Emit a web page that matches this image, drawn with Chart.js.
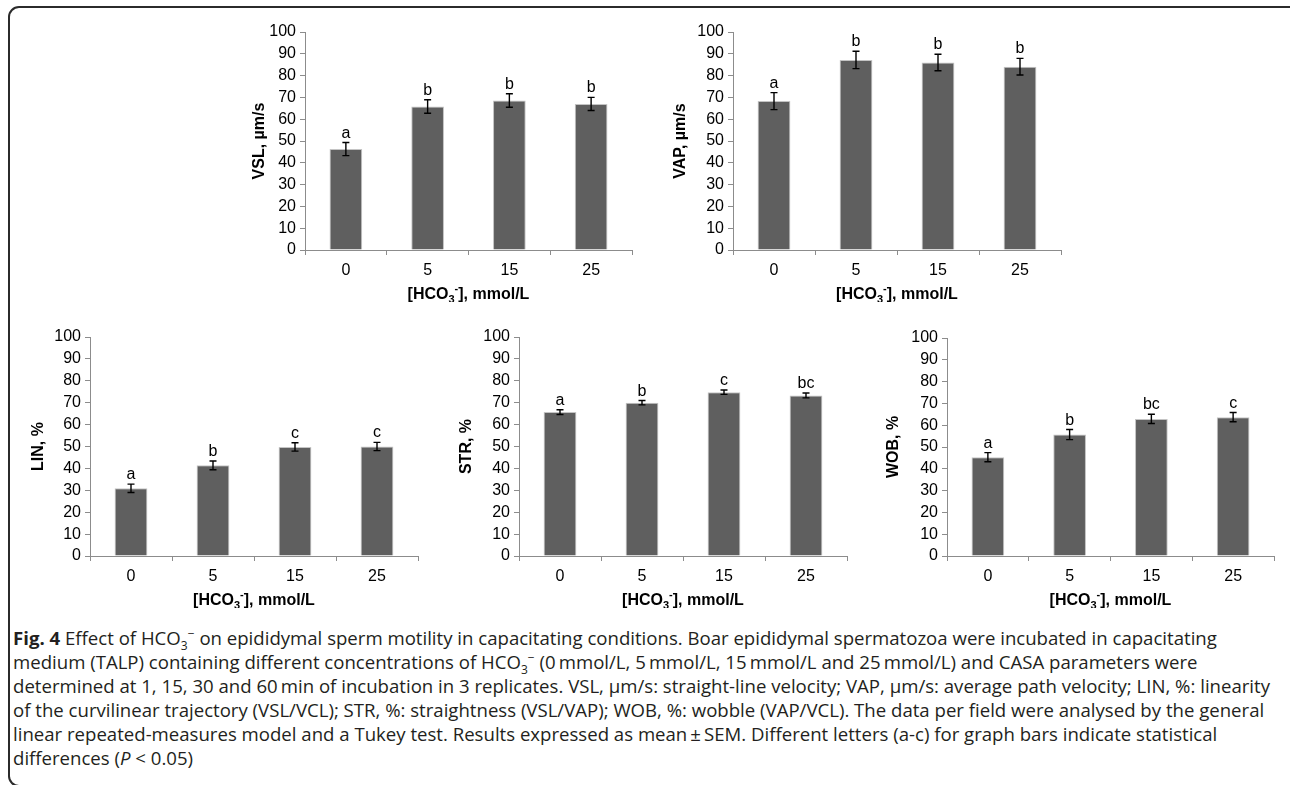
<!DOCTYPE html>
<html>
<head>
<meta charset="utf-8">
<script src="https://cdn.jsdelivr.net/npm/chart.js@4.4.0/dist/chart.umd.min.js"></script>
<style>
  html, body { margin: 0; padding: 0; background: #fff; }
  body { width: 1290px; height: 785px; position: relative; overflow: hidden; }
  .frame { position: absolute; left: 8px; top: 6px; width: 1300px; height: 781px;
           border: 2px solid #2b2b2b; border-radius: 11px; box-sizing: border-box; }
  .panel { position: absolute; }
  .caption { position: absolute; left: 13px; top: 626px; font-family: 'Open Sans', sans-serif;
             font-size: 18.6px; line-height: 24px; color: #231f20; white-space: nowrap; }
  .caption sub, .caption sup { font-size: 12px; line-height: 0; }
</style>
</head>
<body>
<div class="frame"></div>
<div class="panel" id="pVSL"><canvas id="cVSL"></canvas></div>
<div class="panel" id="pVAP"><canvas id="cVAP"></canvas></div>
<div class="panel" id="pLIN"><canvas id="cLIN"></canvas></div>
<div class="panel" id="pSTR"><canvas id="cSTR"></canvas></div>
<div class="panel" id="pWOB"><canvas id="cWOB"></canvas></div>

<div class="caption">
  <b>Fig. 4</b> Effect of HCO<sub>3</sub><sup>−</sup> on epididymal sperm motility in capacitating conditions. Boar epididymal spermatozoa were incubated in capacitating<br>
  medium (TALP) containing different concentrations of HCO<sub>3</sub><sup>−</sup> (0&#8201;mmol/L, 5&#8201;mmol/L, 15&#8201;mmol/L and 25&#8201;mmol/L) and CASA parameters were<br>
  determined at 1, 15, 30 and 60&#8201;min of incubation in 3 replicates. VSL, µm/s: straight-line velocity; VAP, µm/s: average path velocity; LIN, %: linearity<br>
  of the curvilinear trajectory (VSL/VCL); STR, %: straightness (VSL/VAP); WOB, %: wobble (VAP/VCL). The data per field were analysed by the general<br>
  linear repeated-measures model and a Tukey test. Results expressed as mean&#8201;±&#8201;SEM. Different letters (a-c) for graph bars indicate statistical<br>
  differences (<i>P</i> &lt; 0.05)
</div>

<script>
  // HCO3- concentrations (mmol/L)
  const doses = ['0', '5', '15', '25'];

  // means, SEM and significance letters per parameter
  const vsl = [46.3, 65.8, 68.6, 67.0];
  const vslSem = [3.0, 3.1, 3.1, 3.0];
  const vslLetters = ['a', 'b', 'b', 'b'];

  const vap = [68.3, 87.2, 86.0, 84.1];
  const vapSem = [3.9, 4.0, 3.8, 3.8];
  const vapLetters = ['a', 'b', 'b', 'b'];

  const lin = [30.9, 41.4, 49.8, 50.0];
  const linSem = [1.9, 2.0, 1.9, 1.9];
  const linLetters = ['a', 'b', 'c', 'c'];

  const str = [65.7, 70.0, 74.8, 73.3];
  const strSem = [1.1, 1.0, 1.0, 1.1];
  const strLetters = ['a', 'b', 'c', 'bc'];

  const wob = [45.3, 55.7, 62.9, 63.7];
  const wobSem = [2.1, 2.3, 2.1, 2.1];
  const wobLetters = ['a', 'b', 'bc', 'c'];

  const yTicks = { min: 0, max: 100, step: 10 };

  // x title "[HCO3-], mmol/L" split for sub/superscript
  const xTitleHead = '[HCO', xTitleSub = '3', xTitleSup = '-', xTitleTail = '], mmol/L';

  Chart.defaults.font.family = "'Liberation Sans', Arial, sans-serif";
  Chart.defaults.color = '#000';

  const AXIS_W = 66, AXIS_H = 52, PAD_TOP = 22, PAD_RIGHT = 6;
  const axisGrey = '#8c8c8c';
  const FONT = "'Liberation Sans', Arial, sans-serif";

  // error bars + letters above each bar
  const errorBars = {
    id: 'errorBars',
    afterDatasetsDraw(chart, args, opts) {
      const ctx = chart.ctx;
      const y = chart.scales.y;
      const meta = chart.getDatasetMeta(0);
      ctx.save();
      ctx.strokeStyle = '#000';
      ctx.lineWidth = 1.4;
      ctx.fillStyle = '#000';
      ctx.font = '16px ' + FONT;
      ctx.textAlign = 'center';
      ctx.textBaseline = 'alphabetic';
      meta.data.forEach((bar, i) => {
        const v = opts.values[i], e = opts.errors[i];
        const hi = y.getPixelForValue(v + e);
        const lo = y.getPixelForValue(v - e);
        ctx.beginPath();
        ctx.moveTo(bar.x, hi); ctx.lineTo(bar.x, lo);
        ctx.moveTo(bar.x - 3.5, hi); ctx.lineTo(bar.x + 3.5, hi);
        ctx.moveTo(bar.x - 3.5, lo); ctx.lineTo(bar.x + 3.5, lo);
        ctx.stroke();
        ctx.fillText(opts.letters[i], bar.x, hi - 5);
      });
      ctx.restore();
    }
  };

  // x axis title with subscript/superscript, centred under the x scale
  const xTitle = {
    id: 'xTitle',
    afterDraw(chart) {
      const ctx = chart.ctx;
      const xs = chart.scales.x;
      const big = 'bold 16px ' + FONT, small = 'bold 11px ' + FONT;
      ctx.save();
      ctx.fillStyle = '#000';
      ctx.textAlign = 'left';
      ctx.textBaseline = 'alphabetic';
      ctx.font = big;
      const wHead = ctx.measureText(xTitleHead).width;
      const wTail = ctx.measureText(xTitleTail).width;
      ctx.font = small;
      const wSub = ctx.measureText(xTitleSub).width;
      const wSup = ctx.measureText(xTitleSup).width;
      const total = wHead + wSub + wSup + wTail;
      let x = (xs.left + xs.right) / 2 - total / 2;
      const base = xs.top + 49;
      ctx.font = big; ctx.fillText(xTitleHead, x, base); x += wHead;
      ctx.font = small; ctx.fillText(xTitleSub, x, base + 4); x += wSub;
      ctx.fillText(xTitleSup, x, base - 7); x += wSup;
      ctx.font = big; ctx.fillText(xTitleTail, x, base);
      ctx.restore();
    }
  };

  function makePanel(key, box, yTitle, titleGap, values, errors, letters) {
    const wrap = document.getElementById('p' + key);
    const canvas = document.getElementById('c' + key);
    const w = (box.x1 - box.x0) + AXIS_W + PAD_RIGHT;
    const h = (box.yBot - box.yTop) + PAD_TOP + AXIS_H;
    wrap.style.left = (box.x0 - AXIS_W) + 'px';
    wrap.style.top = (box.yTop - PAD_TOP) + 'px';
    canvas.width = w; canvas.height = h;
    canvas.style.width = w + 'px'; canvas.style.height = h + 'px';

    new Chart(canvas, {
      type: 'bar',
      data: {
        labels: doses,
        datasets: [{
          data: values,
          backgroundColor: '#5f5f5f',
          borderColor: '#c4c4c4',
          borderWidth: 1,
          barPercentage: 0.4,
          categoryPercentage: 1
        }]
      },
      options: {
        responsive: false,
        animation: false,
        layout: { padding: { top: PAD_TOP, right: PAD_RIGHT, left: 0, bottom: 0 } },
        plugins: {
          legend: { display: false },
          tooltip: { enabled: false },
          errorBars: { values, errors, letters }
        },
        scales: {
          x: {
            grid: { drawOnChartArea: false, tickLength: 5, color: axisGrey, offset: true },
            border: { color: axisGrey, width: 1 },
            ticks: { font: { size: 16 }, padding: 6, color: '#000' },
            afterFit: s => { s.height = AXIS_H; }
          },
          y: {
            min: yTicks.min, max: yTicks.max,
            grid: { drawOnChartArea: false, tickLength: 5, color: axisGrey },
            border: { color: axisGrey, width: 1 },
            ticks: { stepSize: yTicks.step, autoSkip: false, font: { size: 16 }, padding: 4, color: '#000' },
            title: {
              display: true,
              text: yTitle,
              font: { size: 16, weight: 'bold' },
              padding: { top: 58 - titleGap, bottom: 0 },
              color: '#000'
            },
            afterFit: s => { s.width = AXIS_W; }
          }
        }
      },
      plugins: [errorBars, xTitle]
    });
  }

  makePanel('VSL', { x0: 305, x1: 632, yTop: 32, yBot: 250 }, 'VSL, µm/s', 47, vsl, vslSem, vslLetters);
  makePanel('VAP', { x0: 733, x1: 1061, yTop: 32, yBot: 250 }, 'VAP, µm/s', 54, vap, vapSem, vapLetters);
  makePanel('LIN', { x0: 90, x1: 418, yTop: 337, yBot: 556 }, 'LIN, %', 53, lin, linSem, linLetters);
  makePanel('STR', { x0: 519, x1: 847, yTop: 337, yBot: 556 }, 'STR, %', 54, str, strSem, strLetters);
  makePanel('WOB', { x0: 947, x1: 1274, yTop: 338, yBot: 556 }, 'WOB, %', 55, wob, wobSem, wobLetters);
</script>
</body>
</html>
